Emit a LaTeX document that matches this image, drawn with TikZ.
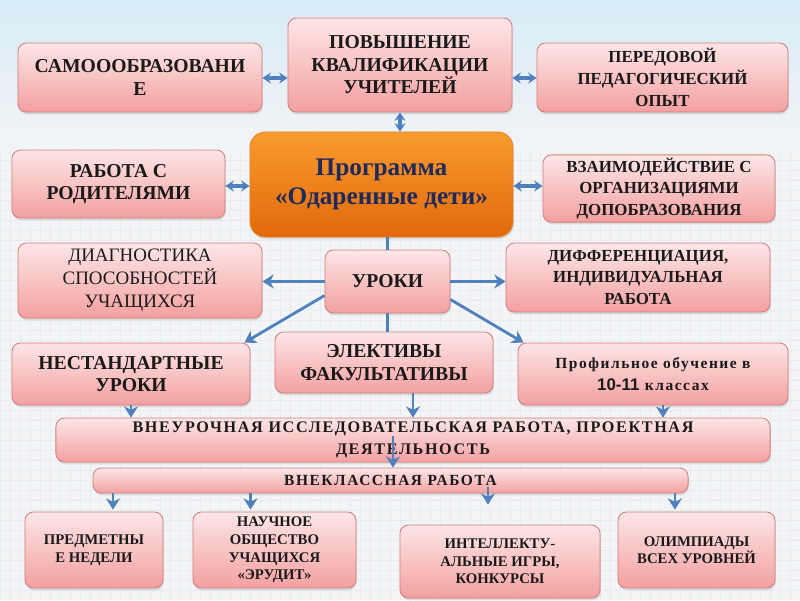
\documentclass[tikz,border=0pt]{standalone}
\usepackage{fontspec}
\setmainfont{Liberation Serif}
\newfontfamily\numfont{Liberation Sans}
\newfontfamily\widefont[LetterSpace=10]{Liberation Serif}
\usetikzlibrary{arrows.meta,shadows,positioning}
\definecolor{bgcol}{HTML}{F2F4F6}
\definecolor{skycol}{HTML}{BCDFF0}
\definecolor{gridcol}{HTML}{E8ECF0}
\definecolor{pinktop}{HTML}{FDE6E6}
\definecolor{pinkbot}{HTML}{F3A0A0}
\definecolor{pinkline}{HTML}{D47E7E}
\definecolor{orangetop}{HTML}{F89B2E}
\definecolor{orangebot}{HTML}{E2690B}
\definecolor{orangeline}{HTML}{E8812A}
\definecolor{arrowblue}{HTML}{4F81BD}
\definecolor{textdark}{HTML}{1A1A1A}
\definecolor{navy}{HTML}{1F2A5C}
\tikzset{
    box/.style = {draw=pinkline, line width=0.6pt, rounded corners=6pt,
        top color=pinktop, bottom color=pinkbot, align=center, inner sep=2pt,
        text=textdark, font=\bfseries\fontsize{14}{16}\selectfont,
        drop shadow={shadow xshift=0.6pt, shadow yshift=-1.6pt, opacity=0.22}},
    mainbox/.style = {box, draw=orangeline, top color=orangetop, bottom color=orangebot,
        rounded corners=11pt, text=navy, font=\bfseries\fontsize{18}{21}\selectfont},
    dims/.style 2 args = {minimum width=#1, minimum height=#2},
    small/.style = {font=\bfseries\fontsize{12}{15.5}\selectfont},
    tiny/.style = {font=\bfseries\fontsize{10.5}{12.5}\selectfont},
    link/.style = {-{Stealth[length=8pt,width=10pt,inset=2.5pt]}, draw=arrowblue, line width=2pt},
    plainlink/.style = {draw=arrowblue, line width=2pt},
    bidirected/.style = {{Stealth[length=6pt,width=8pt,inset=2pt]}-{Stealth[length=6pt,width=8pt,inset=2pt]},
        draw=arrowblue, line width=2.4pt}
}
\begin{document}
\begin{tikzpicture}[x=0.025cm, y=-0.025cm]

    % Background
    \useasboundingbox (0,0) rectangle (800,600);
    \fill[bgcol] (0,0) rectangle (800,600);
    \draw[gridcol, line width=0.3pt, step=0.25cm] (0,0) grid (800,600);
    \shade[top color=skycol!60, bottom color=bgcol, opacity=0.9] (0,0) rectangle (800,150);

    % Nodes
    \node[box, dims={6.1cm}{1.725cm}] (samo) at (140,77.5) {САМОООБРАЗОВАНИ\\Е};
    \node[box, dims={5.6cm}{2.35cm}] (povysh) at (400,65) {ПОВЫШЕНИЕ\\КВАЛИФИКАЦИИ\\УЧИТЕЛЕЙ};
    \node[box, small, dims={6.275cm}{1.725cm}] (opyt) at (662.5,77.5) {ПЕРЕДОВОЙ\\ПЕДАГОГИЧЕСКИЙ\\ОПЫТ};
    \node[mainbox, dims={6.575cm}{2.625cm}] (prog) at (381.5,184.5) {Программа\\«Одаренные дети»};
    \node[box, dims={5.325cm}{1.7cm}] (rodit) at (118.5,184) {РАБОТА С\\РОДИТЕЛЯМИ};
    \node[box, small, dims={5.8cm}{1.675cm}] (vzaim) at (659,188.5) {ВЗАИМОДЕЙСТВИЕ С\\ОРГАНИЗАЦИЯМИ\\ДОПОБРАЗОВАНИЯ};
    \node[box, font=\fontsize{13.5}{16.5}\selectfont, dims={6.1cm}{1.875cm}] (diagn) at (140,280.5) {ДИАГНОСТИКА\\СПОСОБНОСТЕЙ\\УЧАЩИХСЯ};
    \node[box, dims={3.125cm}{1.575cm}] (uroki) at (387.5,281.5) {УРОКИ};
    \node[box, small, dims={6.6cm}{1.725cm}] (differ) at (638,277.5) {ДИФФЕРЕНЦИАЦИЯ,\\ИНДИВИДУАЛЬНАЯ\\РАБОТА};
    \node[box, dims={5.95cm}{1.55cm}] (nestand) at (131,374) {НЕСТАНДАРТНЫЕ\\УРОКИ};
    \node[box, dims={5.45cm}{1.525cm}] (elekt) at (384,362.5) {ЭЛЕКТИВЫ\\ФАКУЛЬТАТИВЫ};
    \node[box, font=\widefont\bfseries\fontsize{11}{16}\selectfont, dims={6.75cm}{1.55cm}] (profil) at (653,374)
        {Профильное обучение в\\{\numfont\bfseries\fontsize{12}{16}\selectfont 10-11} классах};
    \node[box, font=\widefont\bfseries\fontsize{11.5}{15.5}\selectfont, dims={17.85cm}{1.1cm}] (vneur) at (413,440)
        {ВНЕУРОЧНАЯ ИССЛЕДОВАТЕЛЬСКАЯ РАБОТА, ПРОЕКТНАЯ\\ДЕЯТЕЛЬНОСТЬ};
    \node[box, font=\widefont\bfseries\fontsize{11}{13}\selectfont, inner sep=0pt, dims={14.875cm}{0.625cm}] (vnekl) at (390.5,480.5)
        {ВНЕКЛАССНАЯ РАБОТА};
    \node[box, tiny, dims={3.45cm}{1.9cm}] (predm) at (94,550) {ПРЕДМЕТНЫ\\Е НЕДЕЛИ};
    \node[box, tiny, dims={4.075cm}{1.9cm}] (nauch) at (274.5,550) {НАУЧНОЕ\\ОБЩЕСТВО\\УЧАЩИХСЯ\\«ЭРУДИТ»};
    \node[box, tiny, dims={5cm}{1.825cm}] (intel) at (500,561.5) {ИНТЕЛЛЕКТУ-\\АЛЬНЫЕ ИГРЫ,\\КОНКУРСЫ};
    \node[box, tiny, dims={3.925cm}{1.9cm}] (olimp) at (696.5,550) {ОЛИМПИАДЫ\\ВСЕХ УРОВНЕЙ};

    % Links around the programme
    \draw[bidirected] (samo.east |- 0,78) -- (povysh.west |- 0,78);
    \draw[bidirected] (povysh.east |- 0,78) -- (opyt.west |- 0,78);
    \draw[bidirected] (povysh.south) -- (povysh.south |- prog.north);
    \draw[bidirected] (rodit.east |- 0,186) -- (prog.west |- 0,186);
    \draw[bidirected] (prog.east |- 0,186) -- (vzaim.west |- 0,186);
    \draw[plainlink] (prog.south -| uroki.north) -- (uroki.north);

    % Lessons
    \draw[link] (uroki.west) -- (uroki.west -| diagn.east);
    \draw[link] (uroki.east) -- (uroki.east -| differ.west);
    \draw[link] ([yshift=-0.35cm]uroki.west) -- ([xshift=-0.15cm]nestand.north east);
    \draw[link] ([yshift=-0.45cm]uroki.east) -- ([xshift=0.15cm]profil.north west);
    \draw[plainlink] (uroki.south) -- (uroki.south |- elekt.north);

    % Down to the lower boxes
    \draw[link] (nestand.south) -- (nestand.south |- vneur.north);
    \draw[link] ([xshift=0.725cm]elekt.south) -- ([xshift=0.725cm]elekt.south |- vneur.north);
    \draw[link] ([xshift=0.25cm]profil.south) -- ([xshift=0.25cm]profil.south |- vneur.north);
    \draw[link] ([xshift=-0.5cm,yshift=0.1cm]vneur.center) -- ([xshift=-0.5cm]vneur.center |- vnekl.north);
    \draw[link] ([xshift=0.475cm]predm.north |- vnekl.south) -- ([xshift=0.475cm,yshift=0.05cm]predm.north);
    \draw[link] ([xshift=-0.6cm]nauch.north |- vnekl.south) -- ([xshift=-0.6cm,yshift=0.05cm]nauch.north);
    \draw[link] ([xshift=-0.3cm,yshift=0.15cm]intel.north |- vnekl.south) -- ([xshift=-0.3cm,yshift=0.5cm]intel.north);
    \draw[link] ([xshift=-0.54cm]olimp.north |- vnekl.south) -- ([xshift=-0.54cm,yshift=0.05cm]olimp.north);

\end{tikzpicture}
\end{document}
